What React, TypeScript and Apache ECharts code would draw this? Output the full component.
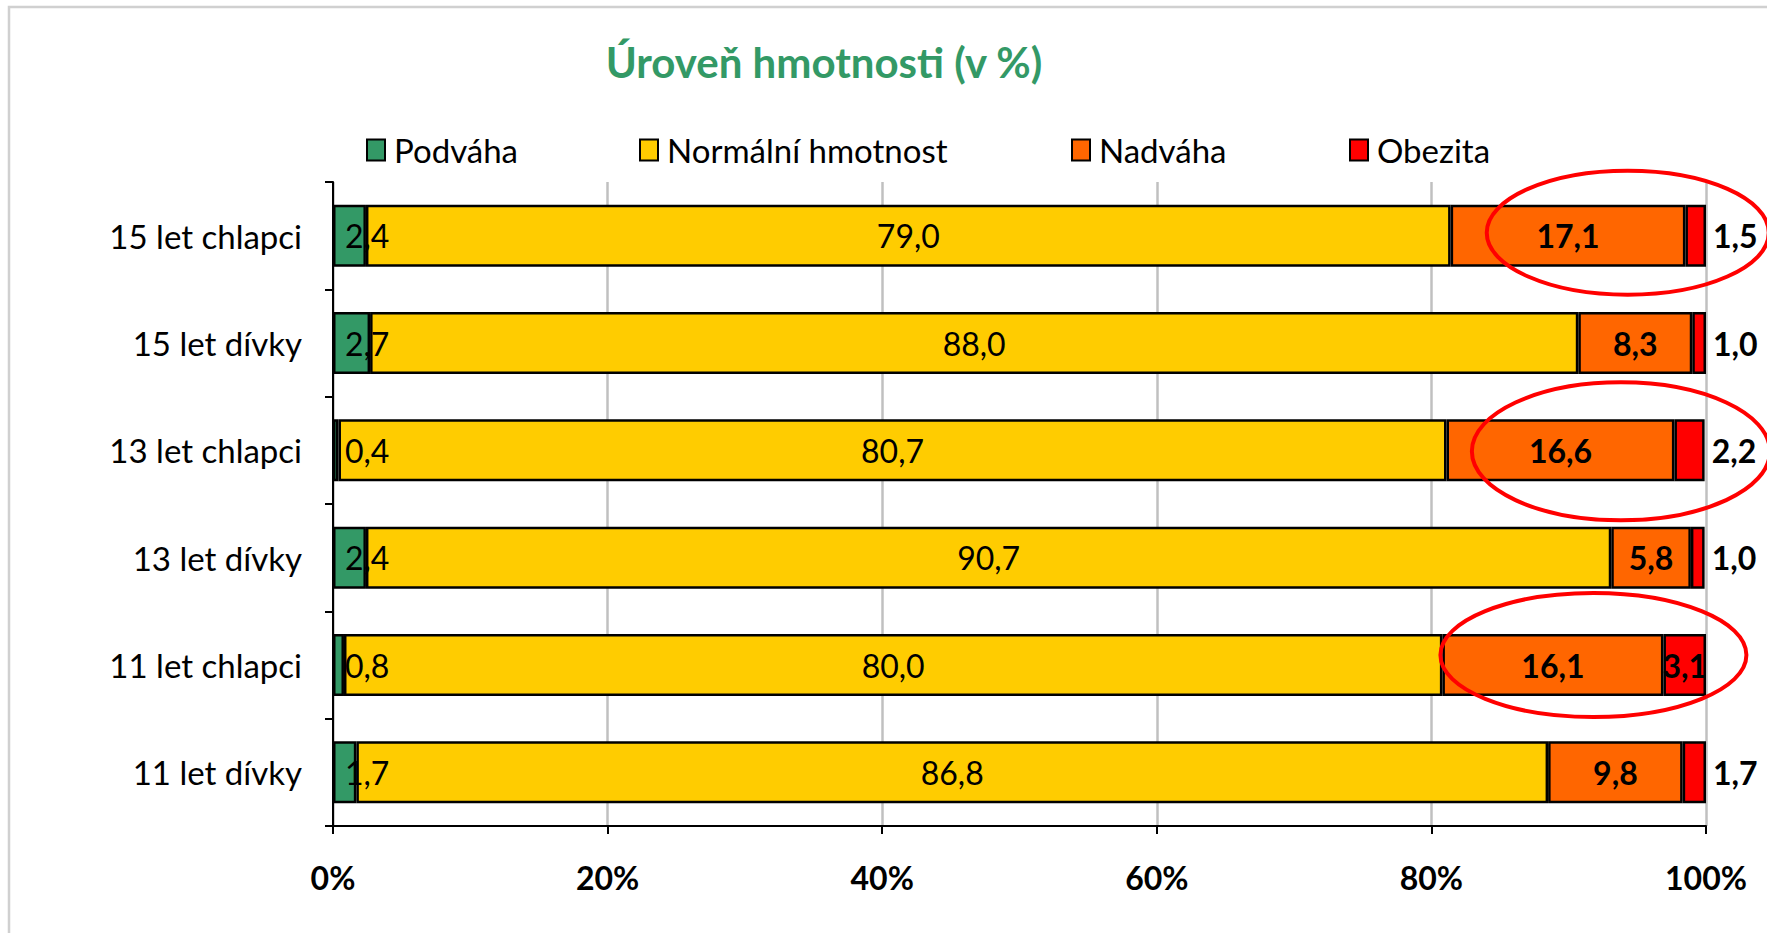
import React, { useEffect, useRef } from "react";
import * as echarts from "echarts";

const categories = [
  "15 let chlapci",
  "15 let dívky",
  "13 let chlapci",
  "13 let dívky",
  "11 let chlapci",
  "11 let dívky",
];
const seriesNames = ["Podváha", "Normální hmotnost", "Nadváha", "Obezita"];
const podvaha = [2.4, 2.7, 0.4, 2.4, 0.8, 1.7];
const normalni = [79.0, 88.0, 80.7, 90.7, 80.0, 86.8];
const nadvaha = [17.1, 8.3, 16.6, 5.8, 16.1, 9.8];
const obezita = [1.5, 1.0, 2.2, 1.0, 3.1, 1.7];
const xTicks = [0, 20, 40, 60, 80, 100];
const titleText = "Úroveň hmotnosti (v %)";

// annotation ellipses (highlighting overweight + obesity for boys)
const ellipseRows = ["15 let chlapci", "13 let chlapci", "11 let chlapci"];
const ellipseCenterValue = [94.3, 93.8, 91.8];

const colors = ["#339966", "#FFCC00", "#FF6600", "#FF0000"];
const FONT = 'Lato, "Noto Sans", sans-serif';

const fmt = (v: number) => v.toFixed(1).replace(".", ",");

export default function App() {
  const ref = useRef<HTMLDivElement>(null);

  useEffect(() => {
    document.body.style.margin = "0";
    if (!ref.current) return;
    const chart = echarts.init(ref.current, null, { renderer: "svg" });

    const labelBase = {
      show: true,
      color: "#000",
      fontFamily: FONT,
      fontSize: 32,
      formatter: (p: any) => fmt(p.value as number),
    };

    const legendLefts = [366, 639, 1071, 1349];

    const option: any = {
      animation: false,
      backgroundColor: "#fff",
      title: {
        text: titleText,
        left: 824,
        textAlign: "center",
        top: 38,
        padding: 0,
        textStyle: {
          color: "#339966",
          fontFamily: FONT,
          fontWeight: "bold",
          fontSize: 42,
          lineHeight: 48,
        },
      },
      legend: seriesNames.map((n, i) => ({
        data: [n],
        left: legendLefts[i],
        top: 130,
        padding: 0,
        itemWidth: 18,
        itemHeight: 21,
        icon: "rect",
        itemStyle: { borderColor: "#000", borderWidth: 2 },
        textStyle: {
          fontFamily: FONT,
          fontSize: 33,
          color: "#000",
          lineHeight: 40,
          padding: [0, 0, 0, 4],
        },
        selectedMode: false,
      })),
      grid: { left: 333, right: 61, top: 182, bottom: 107 },
      xAxis: {
        type: "value",
        min: 0,
        max: 100,
        interval: 20,
        axisLine: { show: true, lineStyle: { color: "#000", width: 2 } },
        axisTick: { show: true, length: 8, lineStyle: { color: "#000", width: 2 } },
        axisLabel: {
          formatter: (v: number) => (xTicks.includes(v) ? `${v}%` : ""),
          fontFamily: FONT,
          fontSize: 32,
          fontWeight: "bold",
          color: "#000",
          margin: 35,
        },
        splitLine: { show: true, lineStyle: { color: "#c0c0c0", width: 2.5 } },
      },
      yAxis: {
        type: "category",
        data: categories,
        inverse: true,
        axisLine: { show: true, lineStyle: { color: "#000", width: 2 } },
        axisTick: { show: true, length: 8, lineStyle: { color: "#000", width: 2 } },
        axisLabel: {
          fontFamily: FONT,
          fontSize: 33,
          color: "#000",
          margin: 31,
        },
        splitLine: { show: false },
      },
      series: [
        {
          name: seriesNames[0],
          type: "bar",
          stack: "total",
          barWidth: 62,
          data: podvaha,
          itemStyle: { color: colors[0], borderColor: "#000", borderWidth: 2.5 },
          label: { ...labelBase, position: "insideLeft", distance: 12 },
          z: 3,
        },
        {
          name: seriesNames[1],
          type: "bar",
          stack: "total",
          barWidth: 62,
          data: normalni,
          itemStyle: { color: colors[1], borderColor: "#000", borderWidth: 2.5 },
          label: { ...labelBase, position: "inside" },
          z: 2,
        },
        {
          name: seriesNames[2],
          type: "bar",
          stack: "total",
          barWidth: 62,
          data: nadvaha,
          itemStyle: { color: colors[2], borderColor: "#000", borderWidth: 2.5 },
          label: { ...labelBase, position: "inside", fontWeight: "bold" },
          z: 2,
        },
        {
          name: seriesNames[3],
          type: "bar",
          stack: "total",
          barWidth: 62,
          data: obezita.map((v, i) =>
            categories[i] === "11 let chlapci"
              ? { value: v, label: { position: "inside" } }
              : { value: v }
          ),
          itemStyle: { color: colors[3], borderColor: "#000", borderWidth: 2.5 },
          label: { ...labelBase, position: "right", distance: 7, fontWeight: "bold" },
          z: 2,
        },
      ],
    };

    chart.setOption(option);

    const ellipseSizes = [
      { rx: 141, ry: 62, dy: -3 },
      { rx: 149, ry: 69, dy: 1 },
      { rx: 153, ry: 62, dy: -10 },
    ];
    const ellipses = ellipseRows.map((row, i) => {
      const pt = chart.convertToPixel({ gridIndex: 0 }, [ellipseCenterValue[i], row]) as number[];
      return {
        type: "ellipse",
        shape: { cx: pt[0], cy: pt[1] + ellipseSizes[i].dy, rx: ellipseSizes[i].rx, ry: ellipseSizes[i].ry },
        style: { fill: "none", stroke: "#FF0000", lineWidth: 4 },
        z: 100,
        silent: true,
      };
    });

    chart.setOption({
      graphic: [
        {
          type: "rect",
          shape: { x: 9, y: 7, width: 1900, height: 1100 },
          style: { fill: "none", stroke: "#d0d0d0", lineWidth: 2.5 },
          z: -1,
          silent: true,
        },
        ...ellipses,
      ],
    });

    return () => chart.dispose();
  }, []);

  return <div ref={ref} style={{ width: 1767, height: 933 }} />;
}
